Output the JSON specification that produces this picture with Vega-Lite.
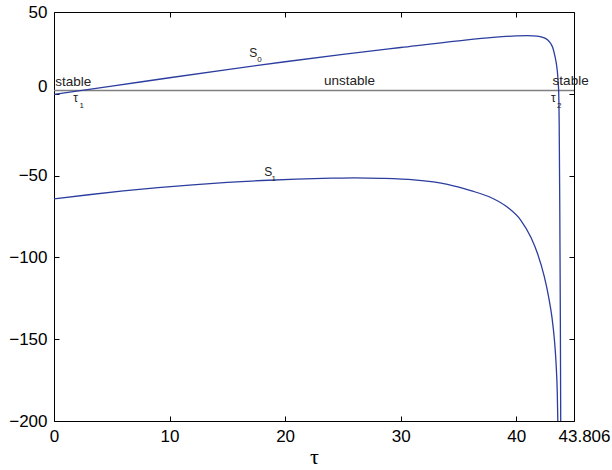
{
  "$schema": "https://vega.github.io/schema/vega-lite/v6.json",
  "width": 520,
  "height": 409,
  "autosize": "none",
  "padding": {"left": 54, "top": 12, "right": 38, "bottom": 49},
  "background": "white",
  "config": {
    "view": {"stroke": null},
    "font": "Liberation Sans",
    "axis": {
      "grid": false,
      "domainColor": "black",
      "domainWidth": 1,
      "tickColor": "black",
      "tickSize": -5,
      "tickWidth": 1,
      "labelFont": "Liberation Sans",
      "labelFontSize": 17,
      "labelColor": "black",
      "labelFlush": false,
      "labelOverlap": false,
      "labelBound": false
    }
  },
  "datasets": {
    "curves": [
      {"tau": 0, "value": -0.3, "series": "S0"},
      {"tau": 5, "value": 4.7, "series": "S0"},
      {"tau": 10, "value": 9.8, "series": "S0"},
      {"tau": 15, "value": 14.8, "series": "S0"},
      {"tau": 20, "value": 19.6, "series": "S0"},
      {"tau": 25, "value": 24.1, "series": "S0"},
      {"tau": 30, "value": 28.3, "series": "S0"},
      {"tau": 35, "value": 32.4, "series": "S0"},
      {"tau": 38, "value": 34.5, "series": "S0"},
      {"tau": 40, "value": 35.4, "series": "S0"},
      {"tau": 41, "value": 35.6, "series": "S0"},
      {"tau": 41.8, "value": 35.3, "series": "S0"},
      {"tau": 42.3, "value": 34.5, "series": "S0"},
      {"tau": 42.7, "value": 33.1, "series": "S0"},
      {"tau": 43.0, "value": 30.6, "series": "S0"},
      {"tau": 43.15, "value": 28.4, "series": "S0"},
      {"tau": 43.3, "value": 24.6, "series": "S0"},
      {"tau": 43.43, "value": 20.2, "series": "S0"},
      {"tau": 43.52, "value": 16.0, "series": "S0"},
      {"tau": 43.58, "value": 12.1, "series": "S0"},
      {"tau": 43.64, "value": 6.0, "series": "S0"},
      {"tau": 43.67, "value": 2.3, "series": "S0"},
      {"tau": 43.72, "value": -20, "series": "S0"},
      {"tau": 43.77, "value": -70, "series": "S0"},
      {"tau": 43.82, "value": -140, "series": "S0"},
      {"tau": 43.85, "value": -200, "series": "S0"},
      {"tau": 0, "value": -64.2, "series": "S1"},
      {"tau": 3, "value": -61.7, "series": "S1"},
      {"tau": 6, "value": -59.4, "series": "S1"},
      {"tau": 9, "value": -57.4, "series": "S1"},
      {"tau": 12, "value": -55.7, "series": "S1"},
      {"tau": 15, "value": -54.2, "series": "S1"},
      {"tau": 18, "value": -53.0, "series": "S1"},
      {"tau": 21, "value": -52.1, "series": "S1"},
      {"tau": 24, "value": -51.6, "series": "S1"},
      {"tau": 26, "value": -51.4, "series": "S1"},
      {"tau": 28.26, "value": -51.65, "series": "S1"},
      {"tau": 31.15, "value": -52.6, "series": "S1"},
      {"tau": 34.05, "value": -55.3, "series": "S1"},
      {"tau": 36.07, "value": -59.2, "series": "S1"},
      {"tau": 37.8, "value": -63.4, "series": "S1"},
      {"tau": 39.25, "value": -69.4, "series": "S1"},
      {"tau": 40.4, "value": -77.3, "series": "S1"},
      {"tau": 41.27, "value": -87.7, "series": "S1"},
      {"tau": 41.85, "value": -97.8, "series": "S1"},
      {"tau": 42.42, "value": -111.5, "series": "S1"},
      {"tau": 42.8, "value": -124, "series": "S1"},
      {"tau": 43.1, "value": -137, "series": "S1"},
      {"tau": 43.3, "value": -150, "series": "S1"},
      {"tau": 43.45, "value": -165, "series": "S1"},
      {"tau": 43.55, "value": -182, "series": "S1"},
      {"tau": 43.6, "value": -200, "series": "S1"}
    ],
    "labels": [
      {"tau": 0.1, "value": 5, "text": "stable"},
      {"tau": 23.36, "value": 5.4, "text": "unstable"},
      {"tau": 43.15, "value": 5.5, "text": "stable"}
    ],
    "symbols": [
      {"tau": 16.9, "value": 22.3, "text": "S"},
      {"tau": 18.2, "value": -50, "text": "S"},
      {"tau": 1.67, "value": -4.8, "text": "τ"},
      {"tau": 43.0, "value": -4.8, "text": "τ"}
    ],
    "subs": [
      {"tau": 17.58, "value": 19.2, "text": "0"},
      {"tau": 18.82, "value": -53.1, "text": "1"},
      {"tau": 2.2, "value": -8.5, "text": "1"},
      {"tau": 43.52, "value": -8.5, "text": "2"}
    ],
    "level": [{"value": 2}]
  },
  "resolve": {"axis": {"x": "independent", "y": "independent"}},
  "layer": [
    {
      "data": {"name": "level"},
      "mark": {"type": "rule", "color": "#808080", "strokeWidth": 1.4},
      "encoding": {
        "y": {"field": "value", "type": "quantitative", "scale": {"domain": [-200, 50], "nice": false}, "axis": null}
      }
    },
    {
      "data": {"name": "curves"},
      "mark": {"type": "line", "color": "#2b3d9f", "strokeWidth": 1.3, "clip": true, "interpolate": "monotone"},
      "encoding": {
        "x": {"field": "tau", "type": "quantitative", "scale": {"domain": [0, 45], "nice": false},
              "axis": {"orient": "top", "labels": false, "title": null, "values": [0, 10, 20, 30, 40]}},
        "y": {"field": "value", "type": "quantitative", "scale": {"domain": [-200, 50], "nice": false},
              "axis": {"orient": "right", "labels": false, "title": null, "values": [-200, -150, -100, -50, 0, 50]}},
        "detail": {"field": "series"}
      }
    },
    {
      "data": {"name": "labels"},
      "mark": {"type": "text", "fontSize": 13.5, "color": "#222", "align": "left", "baseline": "alphabetic"},
      "encoding": {
        "x": {"field": "tau", "type": "quantitative",
              "axis": {"orient": "bottom", "title": "τ", "titleFont": "Liberation Serif", "titleFontSize": 22,
                       "titleFontWeight": "normal", "titleColor": "black", "titlePadding": 2,
                       "labelPadding": 12,
                       "values": [0, 10, 20, 30, 40, 45],
                       "labelExpr": "datum.value == 45 ? '43.806' : datum.label",
                       "labelOffset": {"condition": {"test": "datum.value == 45", "value": 10}, "value": 0}}},
        "y": {"field": "value", "type": "quantitative",
              "axis": {"orient": "left", "title": null, "labelPadding": 12,
                       "values": [-200, -150, -100, -50, 0, 50],
                       "labelOffset": {"condition": {"test": "datum.value == 0", "value": -7}, "value": 0}}},
        "text": {"field": "text"}
      }
    },
    {
      "data": {"name": "symbols"},
      "mark": {"type": "text", "fontSize": 12, "color": "#222", "align": "left", "baseline": "alphabetic"},
      "encoding": {
        "x": {"field": "tau", "type": "quantitative", "axis": null},
        "y": {"field": "value", "type": "quantitative", "axis": null},
        "text": {"field": "text"}
      }
    },
    {
      "data": {"name": "subs"},
      "mark": {"type": "text", "fontSize": 8, "color": "#222", "align": "left", "baseline": "alphabetic"},
      "encoding": {
        "x": {"field": "tau", "type": "quantitative", "axis": null},
        "y": {"field": "value", "type": "quantitative", "axis": null},
        "text": {"field": "text"}
      }
    }
  ]
}
